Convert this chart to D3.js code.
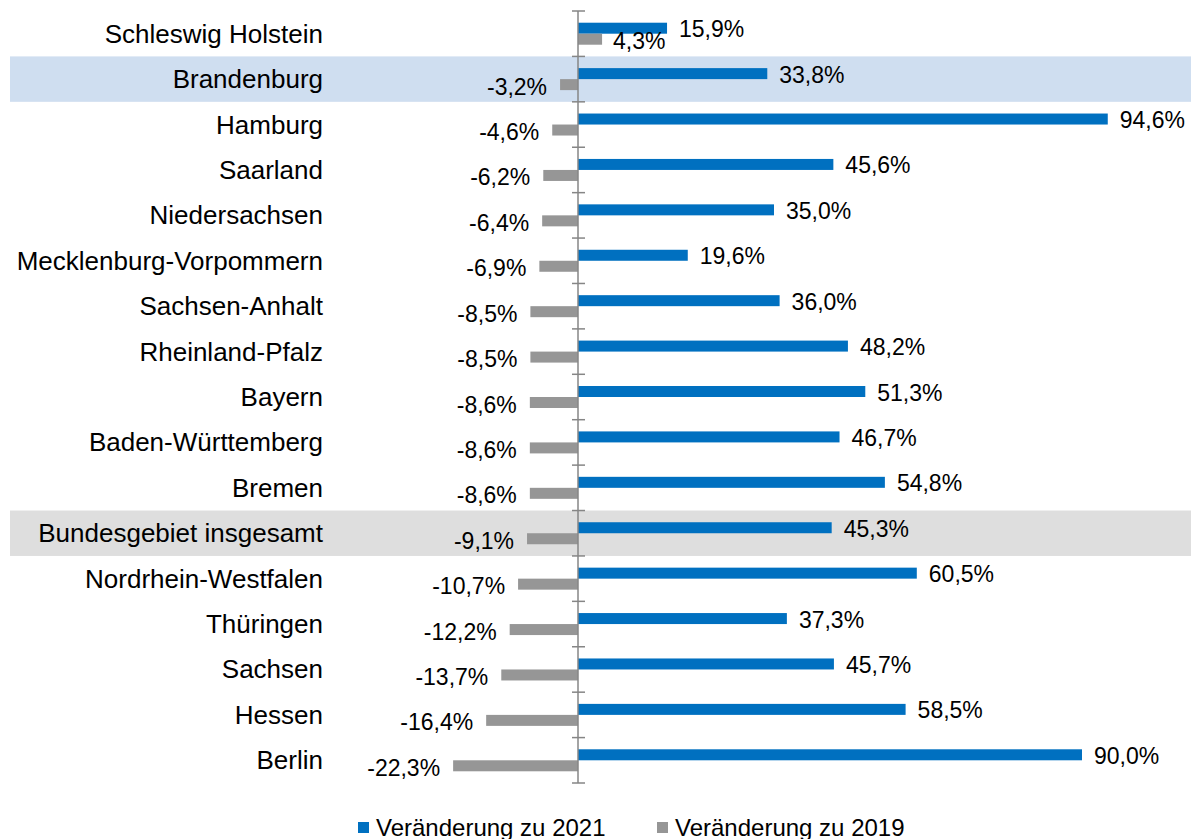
<!DOCTYPE html>
<html>
<head>
<meta charset="utf-8">
<script src="https://cdn.jsdelivr.net/npm/d3@7"></script>
<style>
  body { margin: 0; background: #fff; }
  svg text { font-family: Arial, "Liberation Sans", sans-serif; fill: #000; }
</style>
</head>
<body>
<svg id="chart" width="1191" height="839"></svg>
<script>

var categories = ["Schleswig Holstein", "Brandenburg", "Hamburg", "Saarland", "Niedersachsen",
  "Mecklenburg-Vorpommern", "Sachsen-Anhalt", "Rheinland-Pfalz", "Bayern", "Baden-Württemberg",
  "Bremen", "Bundesgebiet insgesamt", "Nordrhein-Westfalen", "Thüringen", "Sachsen", "Hessen", "Berlin"];

var change2021 = [15.9, 33.8, 94.6, 45.6, 35.0, 19.6, 36.0, 48.2, 51.3, 46.7, 54.8, 45.3, 60.5, 37.3, 45.7, 58.5, 90.0];
var change2019 = [4.3, -3.2, -4.6, -6.2, -6.4, -6.9, -8.5, -8.5, -8.6, -8.6, -8.6, -9.1, -10.7, -12.2, -13.7, -16.4, -22.3];

var seriesNames = ["Veränderung zu 2021", "Veränderung zu 2019"];
var seriesColors = ["#0070c0", "#969696"];

// highlighted rows
var highlights = { "Brandenburg": "#cfdef0", "Bundesgebiet insgesamt": "#dedede" };

var svg = d3.select("#chart");

var x = d3.scaleLinear().domain([-25, 100]).range([438, 1138]);
var y = d3.scaleBand().domain(categories).range([11, 783]);
var bw = y.bandwidth();
var barH = 11;

var fmt = function(v) { return v.toFixed(1).replace(".", ",") + "%"; };

// highlight bands
svg.selectAll("rect.hl")
  .data(categories.filter(function(c) { return highlights[c]; }))
  .enter()
  .append("rect")
  .attr("class", "hl")
  .attr("x", 10)
  .attr("width", 1181)
  .attr("y", function(d) { return y(d); })
  .attr("height", bw)
  .attr("fill", function(d) { return highlights[d]; });

// category labels
svg.selectAll("text.cat")
  .data(categories)
  .enter()
  .append("text")
  .attr("class", "cat")
  .attr("x", 323)
  .attr("y", function(d) { return y(d) + bw / 2 + 9; })
  .attr("text-anchor", "end")
  .attr("font-size", 26)
  .text(function(d) { return d; });

var rows = categories.map(function(c, i) {
  return { cat: c, a: change2021[i], b: change2019[i] };
});

// blue bars (2021)
svg.selectAll("rect.a")
  .data(rows)
  .enter()
  .append("rect")
  .attr("class", "a")
  .attr("x", function(d) { return x(Math.min(0, d.a)); })
  .attr("width", function(d) { return Math.abs(x(d.a) - x(0)); })
  .attr("y", function(d) { return y(d.cat) + bw / 2 - barH; })
  .attr("height", barH)
  .attr("fill", seriesColors[0]);

// gray bars (2019)
svg.selectAll("rect.b")
  .data(rows)
  .enter()
  .append("rect")
  .attr("class", "b")
  .attr("x", function(d) { return x(Math.min(0, d.b)); })
  .attr("width", function(d) { return Math.abs(x(d.b) - x(0)); })
  .attr("y", function(d) { return y(d.cat) + bw / 2; })
  .attr("height", barH)
  .attr("fill", seriesColors[1]);

// value labels
svg.selectAll("text.la")
  .data(rows)
  .enter()
  .append("text")
  .attr("class", "la")
  .attr("x", function(d) { return x(d.a) + 12; })
  .attr("y", function(d) { return y(d.cat) + bw / 2 - barH / 2 + 9; })
  .attr("font-size", 23)
  .text(function(d) { return fmt(d.a); });

svg.selectAll("text.lb")
  .data(rows)
  .enter()
  .append("text")
  .attr("class", "lb")
  .attr("x", function(d) { return d.b < 0 ? x(d.b) - 13 : x(d.b) + 11; })
  .attr("y", function(d) { return y(d.cat) + bw / 2 + barH / 2 + 10; })
  .attr("text-anchor", function(d) { return d.b < 0 ? "end" : "start"; })
  .attr("font-size", 23)
  .text(function(d) { return fmt(d.b); });

// vertical axis at zero with ticks on band edges
var axis = svg.append("g").attr("stroke", "#868686").attr("stroke-width", 1.5);
axis.append("line")
  .attr("x1", x(0)).attr("x2", x(0))
  .attr("y1", y.range()[0]).attr("y2", y.range()[1]);
var edges = categories.map(function(c) { return y(c); }).concat([y.range()[1]]);
axis.selectAll("line.tick")
  .data(edges)
  .enter()
  .append("line")
  .attr("class", "tick")
  .attr("x1", x(0) - 6).attr("x2", x(0) + 7)
  .attr("y1", function(d) { return d; })
  .attr("y2", function(d) { return d; });

// legend
var legendX = [358, 657];
var legend = svg.selectAll("g.legend")
  .data(seriesNames)
  .enter()
  .append("g")
  .attr("class", "legend")
  .attr("transform", function(d, i) { return "translate(" + legendX[i] + ",822)"; });
legend.append("rect")
  .attr("width", 11).attr("height", 11)
  .attr("fill", function(d, i) { return seriesColors[i]; });
legend.append("text")
  .attr("x", 18).attr("y", 14)
  .attr("font-size", 24)
  .text(function(d) { return d; });

</script>
</body>
</html>
